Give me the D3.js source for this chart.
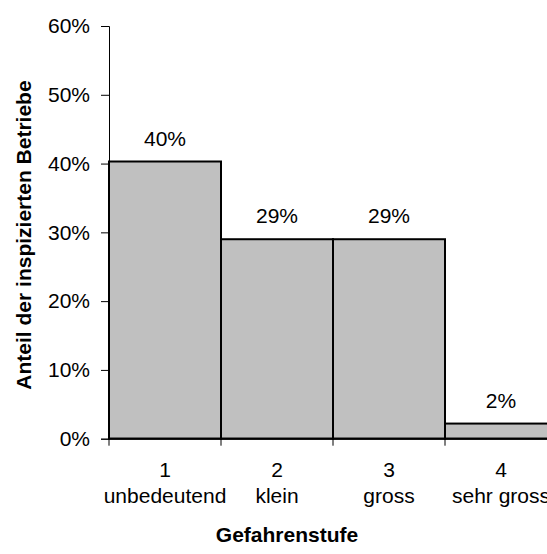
<!DOCTYPE html>
<html>
<head>
<meta charset="utf-8">
<script src="https://cdn.jsdelivr.net/npm/d3@7/dist/d3.min.js"></script>
<style>
  html, body { margin: 0; padding: 0; background: #fff; }
  svg { display: block; font-family: "Liberation Sans", Arial, sans-serif; }
</style>
</head>
<body>
<svg id="chart" width="547" height="554"></svg>
<script>
// Hazard levels and share of inspected businesses
const levels = ["1", "2", "3", "4"];
const levelNames = ["unbedeutend", "klein", "gross", "sehr gross"];
const shares = [0.403, 0.29, 0.29, 0.022];
const yTicks = [0, 0.1, 0.2, 0.3, 0.4, 0.5, 0.6];

(function () {
  const svg = d3.select("#chart");
  const plotLeft = 109, plotTop = 26, plotBottom = 438.7, bandW = 112;
  const fs = 21;

  const x = d3.scaleBand().domain(levels).range([plotLeft, plotLeft + bandW * levels.length]).padding(0);
  const y = d3.scaleLinear().domain([0, 0.6]).range([plotBottom, plotTop]);
  const pct = d3.format(".0%");

  // Bars (touching, histogram style)
  svg.append("g").selectAll("rect").data(levels).join("rect")
    .attr("x", d => x(d))
    .attr("y", (d, i) => y(shares[i]))
    .attr("width", x.bandwidth())
    .attr("height", (d, i) => y(0) - y(shares[i]))
    .attr("fill", "#c0c0c0")
    .attr("stroke", "#000")
    .attr("stroke-width", 2);

  // Value labels
  svg.append("g").selectAll("text").data(levels).join("text")
    .attr("x", d => x(d) + x.bandwidth() / 2)
    .attr("y", (d, i) => y(shares[i]) - 16)
    .attr("text-anchor", "middle")
    .attr("font-size", fs)
    .attr("fill", "#000")
    .text((d, i) => pct(shares[i]));

  // Y axis
  const yAxis = svg.append("g").attr("transform", `translate(${plotLeft},0)`)
    .call(d3.axisLeft(y).tickValues(yTicks).tickFormat(pct).tickSize(8).tickPadding(11));
  yAxis.select(".domain").attr("stroke", "#000").attr("stroke-width", 1);
  yAxis.selectAll(".tick line").attr("stroke", "#000");
  yAxis.selectAll(".tick text").attr("font-size", fs).attr("font-family", "Liberation Sans, Arial, sans-serif").attr("fill", "#000");

  // X axis baseline with ticks at band edges
  svg.append("line")
    .attr("x1", plotLeft).attr("x2", 547)
    .attr("y1", plotBottom).attr("y2", plotBottom)
    .attr("stroke", "#000").attr("stroke-width", 2);
  svg.append("g").selectAll("line").data(levels).join("line")
    .attr("x1", d => x(d)).attr("x2", d => x(d))
    .attr("y1", plotBottom).attr("y2", plotBottom + 7)
    .attr("stroke", "#000");

  // Category labels
  const cat = svg.append("g").selectAll("g").data(levels).join("g")
    .attr("transform", d => `translate(${x(d) + x.bandwidth() / 2},0)`);
  cat.append("text").attr("y", 477).attr("text-anchor", "middle").attr("font-size", fs).text(d => d);
  cat.append("text").attr("y", 503).attr("text-anchor", "middle").attr("font-size", fs).text((d, i) => levelNames[i]);

  // Axis titles
  svg.append("text")
    .attr("x", 287).attr("y", 542)
    .attr("text-anchor", "middle")
    .attr("font-size", fs).attr("font-weight", "bold")
    .text("Gefahrenstufe");
  svg.append("text")
    .attr("transform", `translate(31,235) rotate(-90)`)
    .attr("text-anchor", "middle")
    .attr("font-size", fs).attr("font-weight", "bold")
    .text("Anteil der inspizierten Betriebe");
})();
</script>
</body>
</html>
